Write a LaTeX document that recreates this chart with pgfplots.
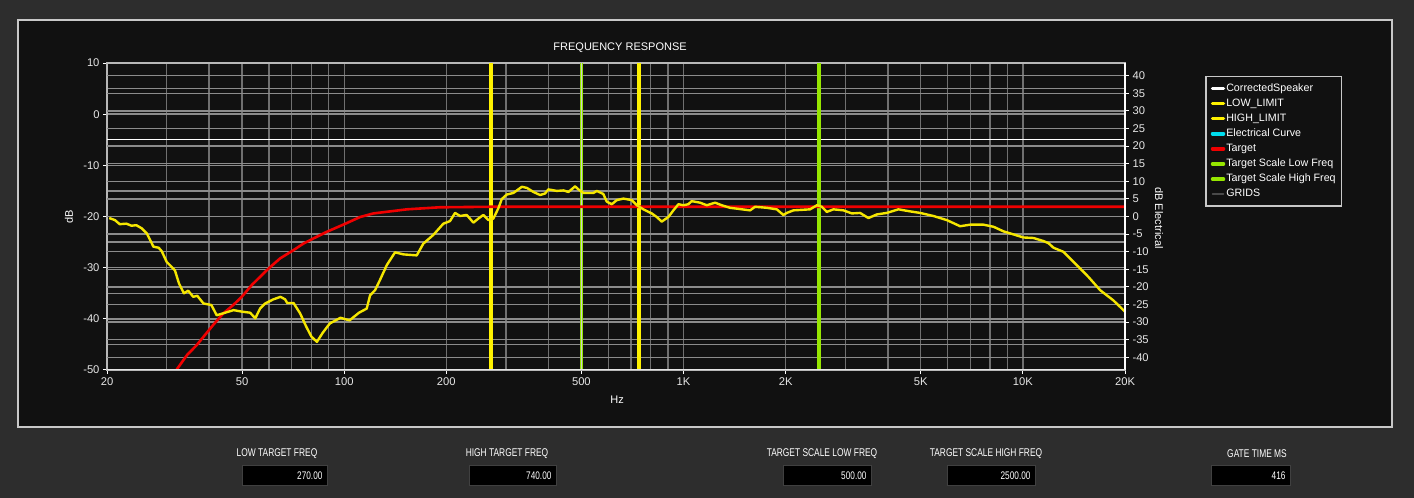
\documentclass[border=0pt]{standalone}
\usepackage{fontspec}
\setmainfont{Liberation Sans}
\newfontfamily\narrowfont[FakeStretch=0.75]{Liberation Sans}
\usepackage{pgfplots}
\pgfplotsset{compat=1.18}

\definecolor{outerbg}{HTML}{2D2D2D}
\definecolor{panelbg}{HTML}{111111}
\definecolor{framecol}{HTML}{C8C8C8}
\definecolor{gridx}{HTML}{707070}
\definecolor{gridy}{HTML}{8C8C8C}
\definecolor{curveyellow}{HTML}{F5E600}
\definecolor{limityellow}{HTML}{FFF200}
\definecolor{targetred}{HTML}{F00000}
\definecolor{scalegreen}{HTML}{96E600}
\definecolor{ticktext}{HTML}{E6E6E6}
\definecolor{elcyan}{HTML}{00DDEE}
\definecolor{gridlegend}{HTML}{4A4A4A}

\pgfplotstableread{
f db
20.3 -20.3
21.1 -20.7
21.8 -21.5
22.8 -21.4
23.6 -21.8
24.4 -21.7
25.3 -22.3
26.2 -23.3
26.8 -24.6
27.4 -25.9
28.4 -26.1
29.0 -26.8
30.0 -28.9
31.7 -30.5
32.6 -33.1
33.7 -35.0
34.7 -34.5
35.9 -35.7
36.9 -35.5
38.5 -37.0
40.6 -37.3
42.1 -39.3
44.1 -38.9
47.2 -38.3
50.0 -38.6
52.8 -38.8
54.7 -39.9
56.5 -38.0
58.5 -37.0
61.8 -36.2
64.9 -35.7
67.0 -36.2
67.9 -36.9
70.9 -36.9
74.1 -38.9
77.4 -41.6
80.1 -43.5
83.1 -44.5
86.5 -42.7
90.7 -40.9
97.5 -39.8
103.7 -40.3
110.6 -38.8
116.5 -38.0
119.2 -35.4
123.3 -34.4
127.5 -32.4
133.5 -29.5
141.2 -27.0
149.3 -27.4
163.6 -27.6
171.1 -25.3
183.1 -23.6
196 -21.4
205 -20.9
212.2 -19.3
219.5 -19.9
229.7 -19.7
240.3 -21.2
248.6 -20.4
257 -19.7
266 -20.7
275.2 -20.4
284.6 -18.4
291.3 -16.6
301.4 -15.7
315.2 -15.4
333.8 -14.2
345.2 -14.4
361 -15.2
377.8 -15.8
390.8 -15.5
399.7 -14.7
423.1 -15.0
442.6 -14.9
457.9 -15.2
473.6 -14.4
479 -14.1
490 -14.7
506.9 -15.4
542.6 -15.4
555.2 -15.0
580.4 -15.6
594 -17.1
614.6 -17.6
635.8 -16.8
665 -16.5
703.8 -16.8
728.2 -17.8
761.4 -18.6
806 -19.4
834 -20.1
862.6 -21.0
902.2 -20.1
933.4 -18.8
966 -17.6
998.8 -17.8
1033 -17.6
1057 -17.0
1119 -17.3
1171 -17.8
1239 -17.3
1296 -17.8
1371 -18.3
1571 -18.8
1625 -18.1
1760 -18.3
1883 -18.6
1969 -19.7
2015 -19.3
2108 -18.8
2360 -18.6
2471 -17.8
2556 -18.1
2644 -19.1
2765 -18.6
2960 -18.8
3133 -19.4
3314 -19.3
3506 -20.3
3710 -19.6
3972 -19.3
4298 -18.6
4652 -19.0
4980 -19.3
5450 -19.9
5968 -20.7
6532 -21.9
6991 -21.6
7651 -21.6
8191 -22.0
8765 -22.9
9489 -23.6
10036 -24.1
10744 -24.2
11498 -24.8
11896 -25.2
12305 -26.1
13167 -26.9
14419 -29.5
15602 -31.8
16893 -34.4
18488 -36.4
20000 -38.6
}\speaker

\pgfplotstableread{
f db
32.1 -49.9
34.4 -47.1
36.8 -45.1
38.4 -43.6
41.1 -41.2
44.0 -38.95
47.1 -37.3
49.9 -35.7
53.4 -33.4
56.5 -31.8
59.8 -30.2
64.7 -28.2
70.8 -26.6
75.8 -25.3
81.1 -24.3
88.8 -23.0
100.1 -21.5
111.4 -20.1
121.9 -19.4
153 -18.6
191 -18.2
270 -18.1
20000 -18.1
}\target

\begin{document}
\begin{tikzpicture}[x=1pt,y=1pt]
\useasboundingbox (0,0) rectangle (1414,498);
\fill[outerbg] (0,0) rectangle (1414,498);
\fill[panelbg] (18,71) rectangle (1392,478);
\draw[framecol, line width=2pt] (18,71) rectangle (1392,478);

\begin{axis}[
  at={(107pt,128pt)}, anchor=south west,
  scale only axis, width=1018pt, height=307pt,
  xmode=log, xmin=20, xmax=20000, ymin=-50, ymax=10,
  xtick={20,50,100,200,500,1000,2000,5000,10000,20000},
  xticklabels={20,50,100,200,500,1K,2K,5K,10K,20K},
  minor xtick={30,40,60,70,80,90,300,400,600,700,800,900,3000,4000,6000,7000,8000,9000},
  ytick={-50,-40,...,10},
  minor ytick={-45,-35,...,5},
  extra y ticks={-47.52,-44.08,-40.64,-37.2,-33.76,-30.32,-26.88,-23.44,-20,-16.56,-13.12,-9.68,-6.24,-2.8,0.64,4.08,7.52},
  extra y tick labels={},
  extra y tick style={major tick length=0pt},
  grid=both,
  major grid style={line width=1.4pt},
  minor grid style={line width=1.4pt},
  x grid style={gridx},
  y grid style={gridy},
  axis line style={draw=white!72!black, line width=1.2pt},
  tick align=outside,
  xtick pos=lower, ytick pos=left,
  major tick length=4pt, minor tick length=0pt,
  tick style={white, line width=1pt},
  ticklabel style={font=\fontsize{11.2}{12}\selectfont, text=ticktext},
  /pgf/number format/assume math mode=true,
  xlabel={Hz}, ylabel={dB},
  xlabel style={at={(axis description cs:0.501,-0.098)}, anchor=center, font=\fontsize{11}{12}\selectfont, text=white},
  ylabel style={at={(axis description cs:-0.0373,0.5)}, anchor=center, font=\fontsize{11}{12}\selectfont, text=white},
  title={FREQUENCY RESPONSE},
  title style={at={(axis description cs:0.504,1.029)}, anchor=center, yshift=0pt, font=\fontsize{11}{12}\selectfont, text=white},
  legend style={at={(axis description cs:1.0786,0.9577)}, anchor=north west,
    fill=panelbg, draw=framecol, line width=1.5pt, text=white,
    font=\fontsize{10.7}{12}\selectfont, inner xsep=5pt, inner ysep=5.5pt,
    row sep=2.6pt, nodes={inner sep=1pt, text height=8pt, text depth=2.5pt},
    cells={anchor=west}},
  legend image code/.code={\draw[#1, line cap=round] (1pt,0pt) -- (12pt,0pt);},
]
\addplot[white, line width=1.3pt, forget plot] coordinates {(20,-5) (20000,-5)};
\addplot[limityellow, line width=4pt, forget plot] coordinates {(270,-50) (270,10)};
\addplot[limityellow, line width=4pt, forget plot] coordinates {(740,-50) (740,10)};
\addplot[scalegreen, line width=3.5pt, forget plot] coordinates {(500,-50) (500,10)};
\addplot[white!60!gray, line width=0.8pt, forget plot] coordinates {(500,-50) (500,10)};
\addplot[scalegreen, line width=4pt, forget plot] coordinates {(2500,-50) (2500,10)};
\addplot[targetred, line width=2.6pt, forget plot] table[x=f, y=db] {\target};
\addplot[curveyellow, line width=2.4pt, line join=round, forget plot] table[x=f, y=db] {\speaker};

\addlegendimage{white, line width=3.5pt}
\addlegendentry{CorrectedSpeaker}
\addlegendimage{limityellow, line width=3.5pt}
\addlegendentry{LOW\_LIMIT}
\addlegendimage{limityellow, line width=3.5pt}
\addlegendentry{HIGH\_LIMIT}
\addlegendimage{elcyan, line width=3.5pt}
\addlegendentry{Electrical Curve}
\addlegendimage{targetred, line width=3.5pt}
\addlegendentry{Target}
\addlegendimage{scalegreen, line width=3.5pt}
\addlegendentry{Target Scale Low Freq}
\addlegendimage{scalegreen, line width=3.5pt}
\addlegendentry{Target Scale High Freq}
\addlegendimage{gridlegend, line width=1.5pt}
\addlegendentry{GRIDS}
\end{axis}

\begin{axis}[
  at={(107pt,128pt)}, anchor=south west,
  scale only axis, width=1018pt, height=307pt,
  xmode=log, xmin=20, xmax=20000, ymin=-43.6, ymax=43.6,
  axis x line=none, axis y line*=right,
  ytick={-40,-35,...,40},
  axis line style={draw=white, line width=1.2pt},
  tick align=outside, major tick length=4pt,
  tick style={white, line width=1pt},
  yticklabel style={font=\fontsize{11.2}{12}\selectfont, text=ticktext},
  /pgf/number format/assume math mode=true,
  ylabel={dB Electrical},
  ylabel style={at={(axis description cs:1.0334,0.495)}, anchor=center, rotate=180, font=\fontsize{11}{12}\selectfont, text=white},
]
\addplot[draw=none, forget plot] coordinates {(20,0) (20000,0)};
\draw[white!90!black, line width=1.2pt] (rel axis cs:0,0) -- (rel axis cs:1,0);
\end{axis}

\begin{scope}[every node/.style={text=white, font=\narrowfont\fontsize{11.2}{12}\selectfont}]
\node at (277,44) {LOW TARGET FREQ};
\node at (507,44) {HIGH TARGET FREQ};
\node at (822,44) {TARGET SCALE LOW FREQ};
\node at (986,44) {TARGET SCALE HIGH FREQ};
\node at (1257,44) {GATE TIME MS};
\end{scope}
\begin{scope}[boxstyle/.style={fill=black, draw=white!25!black, line width=1pt}]
\draw[boxstyle] (242,12) rectangle (327,32);
\draw[boxstyle] (469,12) rectangle (556,32);
\draw[boxstyle] (783,12) rectangle (871,32);
\draw[boxstyle] (947,12) rectangle (1035,32);
\draw[boxstyle] (1211,12) rectangle (1290,32);
\end{scope}
\begin{scope}[every node/.style={anchor=east, text=white, font=\narrowfont\fontsize{11}{12}\selectfont}]
\node at (326,22) {270.00};
\node at (555,22) {740.00};
\node at (870,22) {500.00};
\node at (1034,22) {2500.00};
\node at (1289,22) {416};
\end{scope}
\end{tikzpicture}
\end{document}
